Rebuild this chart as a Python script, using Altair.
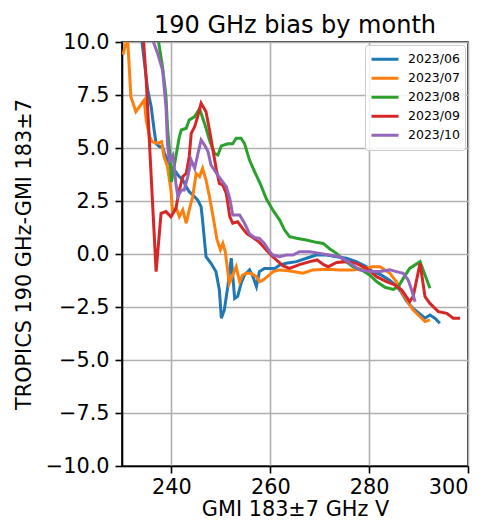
import altair as alt
import pandas as pd

months = ["2023/06", "2023/07", "2023/08", "2023/09", "2023/10"]
colors = ["#1f77b4", "#ff7f0e", "#2ca02c", "#d62728", "#9467bd"]

x_06 = [233.5, 234.05, 235.2, 235.9, 236.5, 236.9, 237.6, 238.2, 238.6, 239.9, 240.6, 241.3, 242.3, 243.0, 243.6,
        244.7, 245.3, 246.0, 246.3, 247.0, 248.0, 249.0, 249.7, 250.1, 250.7, 251.4, 252.1, 252.8, 253.4, 254.1,
        254.8, 255.8, 256.5, 257.2, 257.8, 258.8, 259.9, 260.9, 261.9, 263.2, 265.3, 267.3, 269.3, 271.4, 273.4,
        275.4, 277.4, 279.5, 280.5, 282.5, 284.2, 285.5, 286.5, 287.5, 288.8, 289.9, 291.3, 292.3, 293.3, 294.3]
y_06 = [11.1, 10.0, 7.74, 6.95, 5.85, 5.2, 5.06, 5.06, 4.75, 4.12, 3.96, 3.73, 3.49, 3.17, 2.94,
        2.7, 2.55, 2.23, 1.6, -0.13, -0.44, -0.83, -1.7, -3.03, -2.64, -1.54, -0.2, -2.1, -2.0, -1.38,
        -0.99, -0.75, -1.07, -1.54, -0.83, -0.68, -0.68, -0.68, -0.52, -0.44, -0.36, -0.2, -0.05, -0.05, -0.13,
        -0.2, -0.36, -0.6, -0.8, -1.0, -1.25, -1.5, -1.8, -2.2, -2.55, -2.75, -3.03, -2.88, -3.03, -3.27]

x_07 = [230.2, 230.8, 231.1, 231.8, 232.8, 234.5, 234.9, 235.6, 236.1, 237.1, 238.0, 238.5, 239.2, 239.9, 240.2,
        241.0, 241.6, 242.3, 243.0, 243.6, 244.3, 245.0, 245.7, 246.3, 247.0, 247.7, 248.4, 249.2, 249.9, 250.4,
        250.9, 251.7, 252.4, 253.1, 253.8, 254.4, 255.1, 256.1, 257.2, 257.8, 258.5, 259.2, 260.6, 261.9, 263.2,
        264.6, 266.6, 268.6, 271.4, 274.1, 276.7, 278.5, 280.8, 282.2, 283.2, 284.2, 285.5, 286.6, 287.6, 288.9,
        290.3, 291.3, 292.3]
y_07 = [9.4, 9.94, 10.3, 7.42, 6.71, 7.26, 6.3, 5.53, 5.3, 5.22, 5.3, 4.59, 4.12, 3.02, 2.08,
        2.15, 1.76, 2.08, 1.45, 2.08, 2.7, 3.8, 3.65, 4.04, 3.49, 2.7, 1.8, 0.7, 0.2, 0.5,
        0.1, -1.38, -1.0, -0.6, -1.3, -0.99, -0.91, -0.91, -1.07, -1.3, -1.23, -1.1, -0.83, -0.75, -0.78,
        -0.83, -0.91, -0.75, -0.72, -0.75, -0.75, -0.7, -0.6, -0.6, -0.75, -0.91, -1.3, -1.78, -2.17, -2.64,
        -2.96, -3.19, -3.11]

x_08 = [237.0, 237.4, 238.2, 238.9, 239.2, 239.6, 240.0, 240.9, 241.6, 242.0, 243.0, 243.6, 244.7, 245.7, 246.7,
        247.7, 248.7, 249.4, 250.1, 251.4, 252.4, 253.1, 254.1, 254.8, 255.8, 256.8, 258.0, 259.2, 260.5, 261.9,
        262.9, 263.9, 265.3, 267.3, 269.3, 270.7, 272.0, 273.4, 274.7, 276.7, 278.8, 280.1, 281.5, 283.2, 284.9,
        285.9, 286.9, 288.2, 290.3, 291.3, 292.3]
y_08 = [11.0, 10.0, 8.83, 7.42, 6.0, 4.9, 3.4, 4.6, 5.53, 5.85, 5.93, 6.32, 6.48, 6.85, 6.16,
        5.38, 4.75, 4.67, 5.1, 5.2, 5.2, 5.46, 5.46, 5.2, 4.43, 3.9, 3.3, 2.6, 2.08, 1.6,
        1.13, 0.82, 0.74, 0.66, 0.55, 0.5, 0.25, 0.03, -0.25, -0.6, -0.8, -0.99, -1.3, -1.57, -1.67,
        -1.54, -1.15, -0.68, -0.36, -0.99, -1.62]

x_09 = [234.0, 234.9, 236.9, 237.9, 238.9, 239.9, 240.9, 241.6, 242.3, 243.0, 243.6, 244.0, 244.7, 245.3, 246.0,
        247.0, 247.7, 248.4, 249.1, 249.7, 250.4, 251.1, 251.8, 252.4, 253.4, 254.4, 255.3, 256.5, 257.8, 259.2,
        260.5, 262.6, 263.9, 265.9, 268.0, 269.5, 270.8, 271.7, 273.4, 275.4, 277.4, 279.5, 281.5, 283.5, 285.2,
        286.6, 288.2, 288.9, 290.3, 291.3, 292.3, 294.0, 295.7, 297.0, 298.4]
y_09 = [11.3, 8.2, -0.83, 1.92, 2.0, 1.76, 2.15, 3.02, 3.65, 3.81, 4.59, 5.69, 6.0, 6.48, 7.11,
        6.71, 5.85, 4.9, 3.96, 3.33, 3.25, 2.86, 1.76, 1.45, 1.52, 1.21, 0.95, 0.78, 0.55, 0.19,
        -0.13, -0.56, -0.68, -0.5, -0.36, -0.28, -0.5, -0.6, -0.4, -0.36, -0.44, -0.68, -1.07, -1.3, -1.46,
        -1.7, -2.25, -2.01, -0.44, -2.01, -2.33, -2.72, -2.8, -3.03, -3.03]

x_10 = [235.8, 236.2, 237.2, 238.2, 238.9, 239.2, 239.6, 240.3, 240.9, 241.3, 242.0, 242.6, 243.3, 244.0, 244.7,
        245.3, 246.0, 246.7, 247.4, 248.0, 249.1, 250.1, 251.1, 251.8, 252.4, 253.8, 254.8, 255.8, 256.8, 257.8,
        258.8, 259.9, 260.5, 261.9, 263.2, 264.6, 265.9, 268.0, 270.0, 272.0, 274.1, 275.7, 278.1, 280.1, 282.2,
        284.2, 285.5, 286.9, 287.9, 288.6, 289.3]
y_10 = [10.8, 10.1, 9.47, 8.68, 6.95, 5.2, 4.4, 4.67, 3.33, 2.7, 3.02, 3.02, 3.65, 4.43, 4.04,
        4.67, 5.38, 5.14, 4.83, 4.2, 3.81, 3.49, 3.17, 2.63, 1.84, 1.84, 1.45, 0.95, 0.78, 0.74,
        0.5, 0.1, -0.05, -0.13, -0.05, -0.05, 0.11, 0.11, 0.03, -0.05, -0.13, -0.36, -0.75, -0.83, -0.83,
        -0.75, -0.83, -0.91, -1.23, -1.7, -2.25]

x_ticks = [240, 260, 280, 300]
y_ticks = [-10.0, -7.5, -5.0, -2.5, 0.0, 2.5, 5.0, 7.5, 10.0]

series = [(months[0], x_06, y_06), (months[1], x_07, y_07), (months[2], x_08, y_08),
          (months[3], x_09, y_09), (months[4], x_10, y_10)]
rows = []
for m, xs, ys in series:
    for i, (a, b) in enumerate(zip(xs, ys)):
        rows.append({"month": m, "x": a, "y": b, "i": i})
df = pd.DataFrame(rows)

FONT = "DejaVu Sans"

chart = alt.Chart(df).mark_line(clip=True, strokeWidth=3).encode(
    x=alt.X("x:Q", scale=alt.Scale(domain=[230, 300], nice=False, zero=False),
            axis=alt.Axis(values=x_ticks, title="GMI 183±7 GHz V", format="d")),
    y=alt.Y("y:Q", scale=alt.Scale(domain=[-10, 10], nice=False, zero=False),
            axis=alt.Axis(values=y_ticks, title="TROPICS 190 GHz-GMI 183±7", format=".1f")),
    color=alt.Color("month:N", scale=alt.Scale(domain=months, range=colors),
                    legend=alt.Legend(title=None, orient="top-right", offset=3,
                                      symbolType="stroke", symbolSize=729, symbolStrokeWidth=3,
                                      labelFontSize=12.5, labelFont=FONT, labelColor="black",
                                      fillColor="rgba(255,255,255,0.85)", strokeColor="#cccccc",
                                      cornerRadius=3, padding=5, rowPadding=0, labelOffset=8,
                                      clipHeight=18.6)),
    order="i:Q",
).properties(
    width=346, height=424,
    title=alt.TitleParams("190 GHz bias by month", font=FONT, fontSize=24, fontWeight="normal",
                          color="black", offset=-4, baseline="bottom", dy=27),
    autosize=alt.AutoSizeParams(type="none"),
    padding={"left": 114, "top": 34, "right": 15, "bottom": 54},
).configure_view(
    stroke="black", strokeWidth=1.6
).configure_axis(
    labelFont=FONT, labelFontSize=20.8, labelColor="black",
    titleFont=FONT, titleFontSize=20.8, titleColor="black", titleFontWeight="normal",
    gridColor="#b0b0b0", gridWidth=1.6, gridOpacity=1,
    domainColor="black", domainWidth=1.6,
    tickColor="black", tickSize=7, tickWidth=1.6,
).configure_axisX(titlePadding=3, labelPadding=4).configure_axisY(titlePadding=11, labelPadding=6)

chart.save("out.html", embed_options={"renderer": "svg", "actions": False})
